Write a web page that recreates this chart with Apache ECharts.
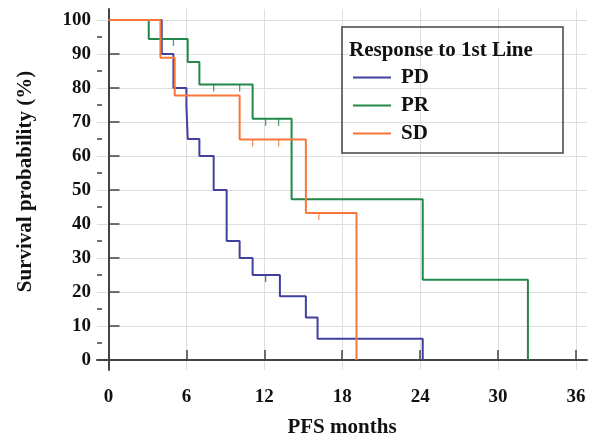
<!DOCTYPE html>
<html>
<head>
<meta charset="utf-8">
<script src="https://cdn.jsdelivr.net/npm/echarts@6/dist/echarts.min.js"></script>
<style>
  html, body { margin: 0; padding: 0; background: #fff; }
  #main { width: 597px; height: 439px; }
</style>
</head>
<body>
<div id="main"></div>
<script>
// Kaplan-Meier curves (months, survival %)
var pdTime = [0, 4.1, 5.0, 6.0, 6.1, 7.0, 8.1, 9.1, 10.1, 11.1, 13.2, 15.2, 16.1, 24.2];
var pdSurv = [100, 90, 80, 75, 65, 60, 50, 35, 30, 25, 18.75, 12.5, 6.25, 0];
var prTime = [0, 3.1, 6.1, 7.0, 11.1, 14.1, 24.2, 32.3];
var prSurv = [100, 94.4, 87.6, 81.0, 70.9, 47.3, 23.6, 0];
var sdTime = [0, 4.0, 5.1, 10.1, 15.2, 19.1];
var sdSurv = [100, 88.9, 77.8, 64.8, 43.2, 0];

// censored marks
var pdCensTime = [12.1];
var pdCensSurv = [25];
var prCensTime = [5.0, 8.1, 10.1, 12.1, 13.1];
var prCensSurv = [94.4, 81.0, 81.0, 70.9, 70.9];
var sdCensTime = [11.1, 13.1, 16.2];
var sdCensSurv = [64.8, 64.8, 43.2];

var xTicks = [0, 6, 12, 18, 24, 30, 36];
var yTicks = [0, 10, 20, 30, 40, 50, 60, 70, 80, 90, 100];
var yMinorTicks = [5, 15, 25, 35, 45, 55, 65, 75, 85, 95];

var groupNames = ['PD', 'PR', 'SD'];
var colors = ['#40409e', '#21884a', '#f7773a'];

function pairs(xs, ys) {
  var out = [];
  for (var i = 0; i < xs.length; i++) out.push([xs[i], ys[i]]);
  return out;
}

var font = "'Liberation Serif', 'Times New Roman', serif";
var curves = [[pdTime, pdSurv], [prTime, prSurv], [sdTime, sdSurv]];
var cens = [[pdCensTime, pdCensSurv], [prCensTime, prCensSurv], [sdCensTime, sdCensSurv]];

var series = [];
for (var i = 0; i < 3; i++) {
  series.push({
    name: groupNames[i],
    type: 'line',
    step: 'end',
    symbol: 'none',
    data: pairs(curves[i][0], curves[i][1]),
    lineStyle: { color: colors[i], width: 2 },
    itemStyle: { color: colors[i] },
    animation: false
  });
}
for (var j = 0; j < 3; j++) {
  series.push({
    name: groupNames[j] + ' censored',
    type: 'scatter',
    symbol: 'rect',
    symbolSize: [1.3, 7],
    symbolOffset: [0, 3.5],
    data: pairs(cens[j][0], cens[j][1]),
    itemStyle: { color: colors[j], opacity: 0.8 },
    animation: false
  });
}

var chart = echarts.init(document.getElementById('main'));
chart.setOption({
  backgroundColor: '#fff',
  animation: false,
  title: {
    text: 'Response to 1st Line',
    left: 344,
    top: 35,
    textStyle: { fontFamily: font, fontWeight: 'bold', fontSize: 21, color: '#111' }
  },
  legend: {
    data: groupNames,
    orient: 'vertical',
    left: 342,
    top: 27,
    padding: [40, 134, 9, 11],
    icon: 'rect',
    itemWidth: 38,
    itemHeight: 2,
    itemGap: 7,
    borderColor: '#444',
    borderWidth: 1.5,
    textStyle: { fontFamily: font, fontWeight: 'bold', fontSize: 21, color: '#111', padding: [0, 0, 0, 5] }
  },
  grid: { left: 97, top: 9, width: 490, height: 361, outerBoundsMode: 'none' },
  xAxis: {
    type: 'value',
    min: -0.885,
    max: 36.85,
    name: 'PFS months',
    nameLocation: 'middle',
    nameGap: 47,
    nameTextStyle: { fontFamily: font, fontWeight: 'bold', fontSize: 21, color: '#111' },
    axisLine: { lineStyle: { color: '#444', width: 2 } },
    axisTick: { customValues: xTicks, inside: true, length: 10, lineStyle: { color: '#444', width: 1.5 } },
    axisLabel: { customValues: xTicks, margin: 18, fontFamily: font, fontWeight: 'bold', fontSize: 19, color: '#111' },
    splitLine: { show: true, lineStyle: { color: '#dedede', width: 1 } }
  },
  yAxis: [{
    type: 'value',
    min: -2.94,
    max: 103.2,
    name: 'Survival probability (%)',
    nameLocation: 'middle',
    nameGap: 61,
    nameTextStyle: { fontFamily: font, fontWeight: 'bold', fontSize: 21, color: '#111', padding: [0, 0, 0, 16] },
    axisLine: { show: true, lineStyle: { color: '#444', width: 2 } },
    axisTick: { customValues: yTicks, inside: true, length: 11, lineStyle: { color: '#444', width: 1.5 } },
    axisLabel: { customValues: yTicks, margin: 6, padding: [10, 0, 0, 0], fontFamily: font, fontWeight: 'bold', fontSize: 19, color: '#111' },
    splitLine: { show: true, lineStyle: { color: '#dedede', width: 1 } }
  }, {
    type: 'value',
    min: -2.94,
    max: 103.2,
    position: 'left',
    axisLine: { show: false },
    axisTick: { customValues: yMinorTicks, inside: true, length: 5, lineStyle: { color: '#444', width: 1.5 } },
    axisLabel: { show: false },
    splitLine: { show: false }
  }],
  series: series
});
</script>
</body>
</html>
